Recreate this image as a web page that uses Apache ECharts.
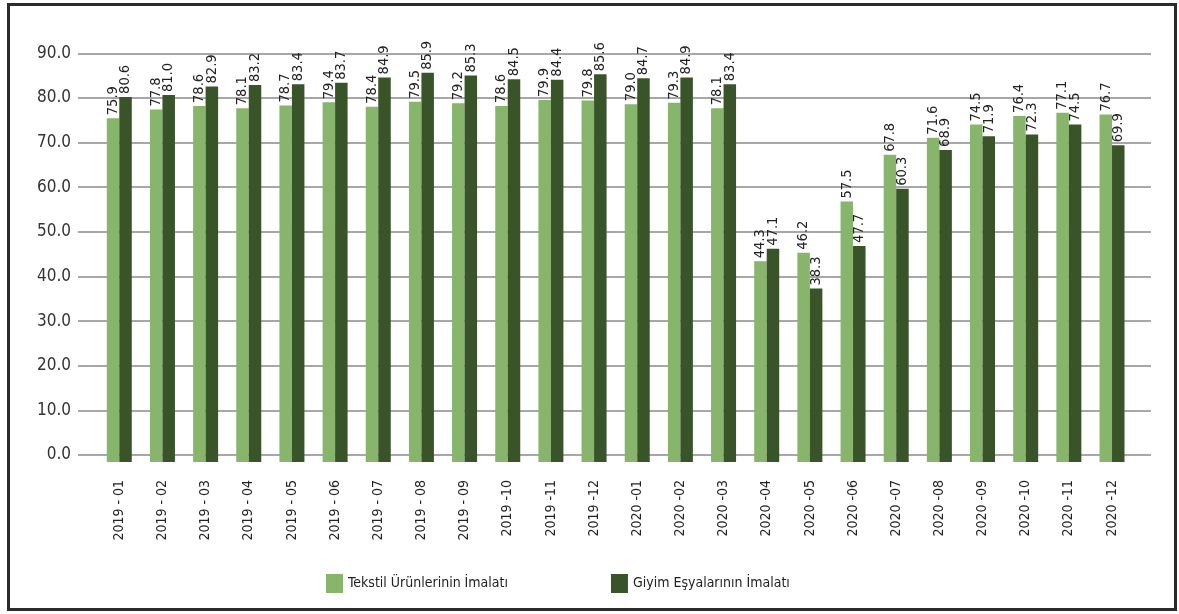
<!DOCTYPE html>
<html>
<head>
<meta charset="utf-8">
<script src="https://cdn.jsdelivr.net/npm/echarts@6/dist/echarts.min.js"></script>
<style>
  html, body { margin: 0; padding: 0; background: #fff; }
  #chart { width: 1179px; height: 614px; }
</style>
</head>
<body>
<div id="chart"></div>
<script>
// aylar
const categories = [
  '2019 - 01', '2019 - 02', '2019 - 03', '2019 - 04', '2019 - 05', '2019 - 06',
  '2019 - 07', '2019 - 08', '2019 - 09', '2019 -10', '2019 -11', '2019 -12',
  '2020 -01', '2020 -02', '2020 -03', '2020 -04', '2020 -05', '2020 -06',
  '2020 -07', '2020 -08', '2020 -09', '2020 -10', '2020 -11', '2020 -12'
]
const seriesNames = ['Tekstil Ürünlerinin İmalatı', 'Giyim Eşyalarının İmalatı']
const tekstil = [75.9, 77.8, 78.6, 78.1, 78.7, 79.4, 78.4, 79.5, 79.2, 78.6, 79.9, 79.8,
  79.0, 79.3, 78.1, 44.3, 46.2, 57.5, 67.8, 71.6, 74.5, 76.4, 77.1, 76.7]
const giyim = [80.6, 81.0, 82.9, 83.2, 83.4, 83.7, 84.9, 85.9, 85.3, 84.5, 84.4, 85.6,
  84.7, 84.9, 83.4, 47.1, 38.3, 47.7, 60.3, 68.9, 71.9, 72.3, 74.5, 69.9]
const yMin = 0
const yMax = 90
const yStep = 10

const font = '"Liberation Sans Narrow", "DejaVu Sans Condensed", "Noto Sans", sans-serif'
const colors = ['#86b56b', '#3a5429']

const chart = echarts.init(document.getElementById('chart'), null, { renderer: 'canvas' })

function barLabel () {
  return {
    show: true,
    position: 'top',
    rotate: 90,
    align: 'left',
    verticalAlign: 'middle',
    distance: 3,
    fontFamily: font,
    fontSize: 14.5,
    color: '#222',
    formatter: p => p.value.toFixed(1)
  }
}

const option = {
  animation: false,
  backgroundColor: '#fff',
  color: colors,
  textStyle: { fontFamily: font },
  graphic: [
    {
      type: 'rect',
      shape: { x: 8.5, y: 4.5, width: 1167, height: 605 },
      style: { fill: 'none', stroke: '#2b2b2b', lineWidth: 3 }
    }
  ],
  legend: {
    left: 321,
    top: 569,
    itemWidth: 17,
    itemHeight: 19,
    itemGap: 103,
    icon: 'rect',
    textStyle: { fontFamily: font, fontSize: 14, color: '#222' },
    data: seriesNames
  },
  // grid 0: y ekseni ve yatay cizgiler, grid 1: cubuklar
  grid: [
    { left: 78, top: 53.3, width: 1073, height: 401.7 },
    { left: 97.7, top: 54.3, width: 1035.9, height: 407.7 }
  ],
  xAxis: [
    { gridIndex: 0, type: 'category', data: [], show: false },
    {
      gridIndex: 1,
      type: 'category',
      data: categories,
      axisLine: { show: false },
      axisTick: { show: false },
      axisLabel: {
        rotate: 90,
        margin: 18,
        fontFamily: font,
        fontSize: 14,
        color: '#222'
      }
    }
  ],
  yAxis: [
    {
      gridIndex: 0,
      type: 'value',
      min: yMin,
      max: yMax,
      interval: yStep,
      axisLine: { show: false },
      axisTick: { show: false },
      axisLabel: {
        margin: 7,
        fontFamily: font,
        fontSize: 17,
        color: '#333',
        formatter: v => v.toFixed(1)
      },
      splitLine: { lineStyle: { color: '#8a8a8a', width: 1.5 } }
    },
    { gridIndex: 1, type: 'value', min: yMin, max: yMax, show: false }
  ],
  series: [
    {
      name: seriesNames[0],
      type: 'bar',
      xAxisIndex: 1,
      yAxisIndex: 1,
      barWidth: 12.5,
      barGap: '0%',
      data: tekstil,
      label: barLabel()
    },
    {
      name: seriesNames[1],
      type: 'bar',
      xAxisIndex: 1,
      yAxisIndex: 1,
      barWidth: 12.5,
      barGap: '0%',
      data: giyim,
      label: barLabel()
    }
  ]
}

chart.setOption(option)
</script>
</body>
</html>
